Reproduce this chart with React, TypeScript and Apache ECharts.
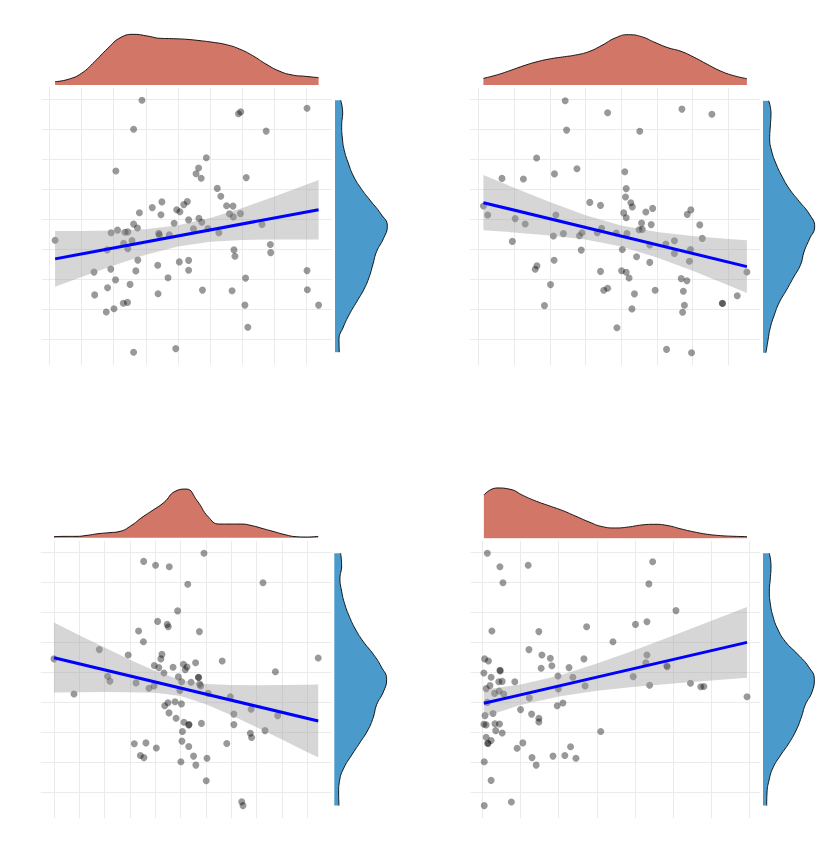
import React, { useEffect, useRef } from "react";
import * as echarts from "echarts";

// ---------- Panel 1 (top-left) ----------
const p1X = [0.18, 2.88, 2.62, 2.07, 2.80, 3.20, 3.50, 3.47, 3.96, 4.06, 4.18, 4.29, 3.88, 4.33, 2.62, 2.74, 1.92, 2.12, 2.35, 2.44, 3.40, 3.42, 3.73, 2.31, 2.57, 2.44, 1.39, 1.91, 2.75, 3.37, 2.69, 4.04, 4.33, 4.33, 2.06, 3.69, 1.41, 1.81, 2.51, 3.38, 1.77, 2.01, 2.30, 2.43, 2.62, 3.93, 1.80,
  4.48, 4.65, 4.74, 4.93, 5.27, 4.76, 4.56, 4.64, 4.72, 4.88, 5.22, 5.33, 5.51, 5.71, 5.60, 5.72, 5.94, 6.12, 5.88, 5.95, 6.74, 8.01, 6.61, 6.87, 6.88, 5.74, 5.77, 6.10, 5.68, 6.08, 6.17, 8.01, 8.02, 8.37];
const p1Y = [3.30, 7.97, 7.00, 5.61, 4.22, 4.39, 4.58, 4.15, 4.32, 4.25, 4.49, 4.59, 3.87, 3.98, 3.84, 3.71, 3.55, 3.64, 3.57, 3.58, 3.53, 3.48, 3.48, 3.20, 3.29, 3.02, 2.24, 2.34, 2.64, 2.47, 2.28, 2.58, 2.63, 2.30, 1.98, 2.05, 1.48, 1.72, 1.83, 1.52, 0.91, 1.02, 1.20, 1.23, -0.43, -0.31, 2.98,
  3.68, 4.03, 3.90, 3.69, 3.55, 1.64, 5.52, 5.71, 5.37, 6.05, 5.03, 4.77, 4.45, 4.44, 4.18, 4.08, 4.19, 5.39, 7.52, 7.58, 6.94, 7.70, 3.83, 3.16, 2.89, 2.98, 2.77, 2.04, 1.62, 1.14, 0.40, 2.29, 1.65, 1.14];
const p1RegX = [0.18, 8.37];
const p1RegY = [2.68, 4.32];
const p1BandX = [0.18, 1, 2, 3, 4, 5, 6, 7, 8, 8.37];
const p1BandHi = [3.61, 3.61, 3.63, 3.67, 3.80, 4.04, 4.38, 4.76, 5.16, 5.31];
const p1BandLo = [1.75, 2.08, 2.46, 2.82, 3.09, 3.25, 3.31, 3.33, 3.33, 3.33];
const p1DensTop = [0.010, 0.017, 0.035, 0.070, 0.110, 0.143, 0.152, 0.147, 0.140, 0.139, 0.137, 0.133, 0.128, 0.121, 0.108, 0.088, 0.063, 0.042, 0.030, 0.026, 0.022];
const p1DensRight = [0.013, 0.012, 0.025, 0.043, 0.065, 0.087, 0.103, 0.114, 0.125, 0.145, 0.157, 0.137, 0.107, 0.078, 0.055, 0.040, 0.028, 0.022, 0.020, 0.023, 0.017];
const p1XTicks = [0, 1, 2, 3, 4, 5, 6, 7, 8];
const p1YTicks = [0, 1, 2, 3, 4, 5, 6, 7, 8];

// ---------- Panel 2 (top-right) ----------
const p2X = [0.14, 0.26, 0.66, 1.26, 1.63, 2.13, 2.43, 2.47, 2.76, 3.62, 1.03, 1.31, 0.95, 2.17, 2.10, 2.38, 2.83, 2.90, 2.88, 3.12, 3.42, 3.33, 3.45, 2.12, 1.59, 1.64, 2.02, 1.85, 3.42, 3.51, 3.62,
  4.52, 5.70, 6.54, 4.10, 4.14, 4.12, 4.27, 4.31, 4.07, 4.14, 4.69, 4.88, 4.57, 4.84, 4.50, 4.59, 4.16, 3.86, 4.03, 4.43, 4.80, 4.80, 5.25, 5.49, 5.49, 5.85, 5.95, 6.20, 6.27, 5.94, 5.91, 4.01, 4.14, 4.22, 4.37, 4.30, 4.95, 5.68, 5.84, 5.74, 5.77, 5.72, 5.27, 5.97, 3.88, 6.83, 6.84, 7.25, 7.52];
const p2Y = [4.45, 4.15, 5.37, 5.35, 6.05, 5.52, 7.96, 6.98, 5.69, 7.56, 4.03, 3.85, 3.27, 4.15, 3.45, 3.53, 3.46, 3.56, 2.98, 4.57, 4.47, 3.56, 3.71, 2.64, 2.34, 2.46, 1.83, 1.13, 2.27, 1.64, 1.71,
  6.94, 7.68, 7.51, 5.59, 5.03, 4.75, 4.56, 4.42, 4.22, 4.06, 4.25, 4.37, 3.88, 3.83, 3.66, 3.67, 3.53, 3.55, 3.00, 2.76, 2.57, 3.15, 3.18, 3.29, 2.87, 4.17, 4.32, 3.82, 3.37, 3.00, 2.61, 2.29, 2.24, 2.05, 1.52, 1.02, 1.64, 2.03, 1.96, 1.61, 1.14, 0.91, -0.33, -0.44, 0.39, 1.21, 1.20, 1.46, 2.25];
const p2RegX = [0.14, 7.52];
const p2RegY = [4.56, 2.43];
const p2BandX = [0.14, 1, 2, 3, 4, 5, 6, 7, 7.52];
const p2BandHi = [5.48, 5.06, 4.58, 4.14, 3.80, 3.58, 3.45, 3.35, 3.31];
const p2BandLo = [3.64, 3.57, 3.47, 3.33, 3.10, 2.73, 2.29, 1.81, 1.55];
const p2DensTop = [0.020, 0.030, 0.043, 0.057, 0.069, 0.078, 0.084, 0.090, 0.100, 0.119, 0.141, 0.151, 0.145, 0.128, 0.112, 0.101, 0.083, 0.062, 0.042, 0.028, 0.019];
const p2DensRight = [0.009, 0.015, 0.022, 0.034, 0.049, 0.071, 0.092, 0.113, 0.123, 0.139, 0.155, 0.139, 0.109, 0.079, 0.057, 0.039, 0.026, 0.020, 0.022, 0.024, 0.017];
const p2XTicks = [0, 1, 2, 3, 4, 5, 6, 7];
const p2YTicks = [0, 1, 2, 3, 4, 5, 6, 7, 8];

// ---------- Panel 3 (bottom-left) ----------
const p3X = [0.00, 0.79, 1.79, 2.12, 2.21, 2.93, 3.24, 3.34, 3.53, 3.54, 4.01, 4.55, 5.28, 4.88, 4.09, 4.47, 4.51, 4.26, 4.22, 3.96, 4.14, 4.34, 4.70, 5.11, 5.18, 5.25, 4.91, 5.04, 4.97, 3.75, 3.95, 4.37, 4.50, 4.78, 5.03, 4.54, 4.82, 5.13, 5.32, 5.33, 5.07, 5.05, 5.32, 3.17, 3.63, 4.04, 3.41, 3.55, 5.01,
  5.92, 8.25, 5.74, 6.64, 5.59, 5.70, 5.71, 5.75, 5.41, 5.79, 6.09, 6.96, 8.74, 10.43, 7.10, 7.10, 7.78, 8.83, 8.33, 7.75, 7.80, 6.82, 5.82, 5.51, 5.60, 6.04, 6.01, 7.41, 7.46];
const p3Y = [4.46, 3.29, 4.77, 3.88, 3.72, 4.59, 3.66, 5.39, 5.03, 7.71, 7.58, 7.53, 6.95, 6.06, 5.71, 5.61, 5.53, 4.61, 4.46, 4.24, 4.17, 3.99, 4.18, 4.28, 4.10, 4.19, 3.86, 3.70, 3.41, 3.48, 3.56, 2.90, 3.00, 3.03, 2.96, 2.66, 2.48, 2.35, 2.26, 2.27, 2.04, 1.72, 1.54, 1.63, 1.66, 1.49, 1.24, 1.17, 1.03,
  7.98, 7.00, 5.37, 4.39, 4.33, 3.84, 3.85, 3.62, 3.68, 3.56, 3.31, 3.20, 4.03, 4.49, 2.62, 2.27, 2.78, 2.57, 2.07, 1.98, 1.84, 1.64, 2.31, 1.22, 0.92, 1.15, 0.40, -0.30, -0.43];
const p3RegX = [0, 10.43];
const p3RegY = [4.50, 2.39];
const p3BandX = [0, 1, 2, 3, 4, 5, 6, 7, 8, 9, 10, 10.43];
const p3BandHi = [5.67, 5.25, 4.84, 4.43, 4.06, 3.76, 3.62, 3.59, 3.58, 3.59, 3.60, 3.61];
const p3BandLo = [3.34, 3.35, 3.36, 3.35, 3.33, 3.22, 2.95, 2.58, 2.18, 1.77, 1.35, 1.18];
const p3DensTop = [0.003, 0.004, 0.004, 0.007, 0.012, 0.015, 0.019, 0.036, 0.061, 0.083, 0.106, 0.139, 0.146, 0.111, 0.063, 0.041, 0.041, 0.041, 0.036, 0.027, 0.018, 0.009, 0.003, 0.002, 0.004];
const p3DensRight = [0.014, 0.013, 0.016, 0.029, 0.052, 0.077, 0.101, 0.117, 0.127, 0.147, 0.157, 0.141, 0.117, 0.087, 0.063, 0.045, 0.031, 0.022, 0.017, 0.022, 0.019];
const p3XTicks = [0, 1, 2, 3, 4, 5, 6, 7, 8, 9, 10];
const p3YTicks = [0, 1, 2, 3, 4, 5, 6, 7, 8];

// ---------- Panel 4 (bottom-right) ----------
const p4X = [0.13, 0.46, 1.20, 0.54, 0.25, 1.48, 2.73, 3.42, 1.22, 1.56, 1.78, 1.82, 1.54, 2.27, 2.66, 1.98, 2.37, 2.69, 1.99, 1.23, 0.85, 0.06, 0.16, 0.04, 0.46, 0.47, 0.23, 0.10, 0.20, 0.43, 0.52, 0.32, 0.44, 0.56, 0.13, 0.07, 0.28, 0.04, 0.10, 0.33, 0.45, 0.52, 0.35, 0.10, 0.14, 0.15, 0.23, 1.00, 1.29, 1.48, 1.48, 1.96, 2.11, 0.91, 1.06, 1.30, 1.41, 1.85, 2.16, 2.31, 2.45, 3.10, 0.05, 0.23, 0.05, 0.76,
  4.46, 4.36, 5.07, 4.01, 4.31, 4.31, 4.28, 3.95, 4.83, 4.84, 4.38, 5.45, 5.72, 5.80, 6.93];
const p4Y = [7.98, 7.53, 7.58, 7.00, 5.39, 5.37, 5.53, 5.03, 4.77, 4.59, 4.48, 4.23, 4.15, 4.17, 4.46, 3.89, 3.85, 3.56, 3.46, 3.16, 3.70, 4.46, 4.39, 3.99, 4.08, 4.06, 3.85, 3.47, 3.57, 3.70, 3.71, 3.31, 3.39, 3.29, 3.01, 2.57, 2.64, 2.28, 2.26, 2.30, 2.29, 1.99, 2.07, 1.85, 1.65, 1.64, 1.74, 2.77, 2.62, 2.48, 2.36, 2.90, 2.99, 1.48, 1.66, 1.17, 0.92, 1.22, 1.24, 1.53, 1.15, 2.04, 1.03, 0.41, -0.43, -0.31,
  7.70, 6.96, 6.07, 5.61, 5.70, 4.59, 4.33, 3.87, 4.23, 4.20, 3.58, 3.65, 3.53, 3.54, 3.20];
const p4RegX = [0.04, 6.93];
const p4RegY = [2.98, 5.01];
const p4BandX = [0.04, 1, 2, 3, 4, 5, 6, 6.93];
const p4BandHi = [3.43, 3.61, 3.90, 4.31, 4.76, 5.24, 5.73, 6.19];
const p4BandLo = [2.53, 2.92, 3.21, 3.40, 3.53, 3.64, 3.74, 3.83];
const p4DensTop = [0.130, 0.151, 0.147, 0.128, 0.111, 0.097, 0.083, 0.066, 0.049, 0.035, 0.031, 0.034, 0.040, 0.042, 0.038, 0.028, 0.019, 0.012, 0.008, 0.006, 0.005];
const p4DensRight = [0.011, 0.012, 0.018, 0.030, 0.053, 0.079, 0.100, 0.115, 0.127, 0.147, 0.154, 0.137, 0.104, 0.067, 0.044, 0.030, 0.022, 0.019, 0.022, 0.024, 0.019];
const p4XTicks = [0, 1, 2, 3, 4, 5, 6, 7];
const p4YTicks = [0, 1, 2, 3, 4, 5, 6, 7, 8];

// ---------- Styles ----------
const GRID_COLOR = "#EBEBEB";
const POINT_COLOR = "rgba(0,0,0,0.5)";
const BAND_COLOR = "rgba(153,153,153,0.4)";
const LINE_COLOR = "#0000FF";
const RED_FILL = "#D27667";
const BLUE_FILL = "#4A9BCC";

// ---------- Layout (pixel positions of each panel) ----------
const panels = [
  { x: p1X, y: p1Y, regX: p1RegX, regY: p1RegY, bandX: p1BandX, bandHi: p1BandHi, bandLo: p1BandLo, densTop: p1DensTop, densRight: p1DensRight, xTicks: p1XTicks, yTicks: p1YTicks,
    left: 41.9, top: 87.6, width: 289.9, height: 277.2, xMin: -0.23, xMax: 8.78, yMin: -0.85, yMax: 8.39, densBase: 85, rightLeft: 335 },
  { x: p2X, y: p2Y, regX: p2RegX, regY: p2RegY, bandX: p2BandX, bandHi: p2BandHi, bandLo: p2BandLo, densTop: p2DensTop, densRight: p2DensRight, xTicks: p2XTicks, yTicks: p2YTicks,
    left: 470.2, top: 88.1, width: 289.9, height: 277.2, xMin: -0.23, xMax: 7.89, yMin: -0.86, yMax: 8.38, densBase: 85, rightLeft: 763 },
  { x: p3X, y: p3Y, regX: p3RegX, regY: p3RegY, bandX: p3BandX, bandHi: p3BandHi, bandLo: p3BandLo, densTop: p3DensTop, densRight: p3DensRight, xTicks: p3XTicks, yTicks: p3YTicks,
    left: 40.8, top: 540.7, width: 290.6, height: 277.5, xMin: -0.52, xMax: 10.95, yMin: -0.85, yMax: 8.40, densBase: 537.7, rightLeft: 334.3 },
  { x: p4X, y: p4Y, regX: p4RegX, regY: p4RegY, bandX: p4BandX, bandHi: p4BandHi, bandLo: p4BandLo, densTop: p4DensTop, densRight: p4DensRight, xTicks: p4XTicks, yTicks: p4YTicks,
    left: 470.5, top: 540.7, width: 289.5, height: 277.5, xMin: -0.31, xMax: 7.27, yMin: -0.85, yMax: 8.40, densBase: 538.3, rightLeft: 763 },
];

const TOP_DENS_HEIGHT = 56;
const TOP_DENS_MAX = 0.168;
const RIGHT_DENS_WIDTH = 60;
const RIGHT_DENS_MAX = 0.18;

function buildOption() {
  const grid: any[] = [];
  const xAxis: any[] = [];
  const yAxis: any[] = [];
  const series: any[] = [];
  const hidden = { show: false };

  panels.forEach((p) => {
    const base = grid.length;
    const pxX = (v: number) => p.left + ((v - p.xMin) / (p.xMax - p.xMin)) * p.width;
    const pxY = (v: number) => p.top + ((p.yMax - v) / (p.yMax - p.yMin)) * p.height;
    const xt0 = p.xTicks[0];
    const xt1 = p.xTicks[p.xTicks.length - 1];
    const yt0 = p.yTicks[0];
    const yt1 = p.yTicks[p.yTicks.length - 1];

    // vertical grid lines
    grid.push({ left: pxX(xt0), top: p.top, width: pxX(xt1) - pxX(xt0), height: p.height });
    xAxis.push({
      gridIndex: base, type: "value", min: xt0, max: xt1, interval: 1,
      axisLine: hidden, axisTick: hidden, axisLabel: hidden,
      splitLine: { show: true, lineStyle: { color: GRID_COLOR, width: 1 } },
    });
    yAxis.push({ gridIndex: base, type: "value", min: 0, max: 1, show: false });

    // horizontal grid lines
    grid.push({ left: p.left, top: pxY(yt1), width: p.width, height: pxY(yt0) - pxY(yt1) });
    xAxis.push({ gridIndex: base + 1, type: "value", min: 0, max: 1, show: false });
    yAxis.push({
      gridIndex: base + 1, type: "value", min: yt0, max: yt1, interval: 1,
      axisLine: hidden, axisTick: hidden, axisLabel: hidden,
      splitLine: { show: true, lineStyle: { color: GRID_COLOR, width: 1 } },
    });

    // scatter panel
    grid.push({ left: p.left, top: p.top, width: p.width, height: p.height });
    xAxis.push({ gridIndex: base + 2, type: "value", min: p.xMin, max: p.xMax, show: false });
    yAxis.push({ gridIndex: base + 2, type: "value", min: p.yMin, max: p.yMax, show: false });

    // top density panel
    const xLo = Math.min(...p.x);
    const xHi = Math.max(...p.x);
    grid.push({ left: pxX(xLo), top: p.densBase - TOP_DENS_HEIGHT, width: pxX(xHi) - pxX(xLo), height: TOP_DENS_HEIGHT });
    xAxis.push({ gridIndex: base + 3, type: "category", boundaryGap: false, data: p.densTop.map((_, i) => String(i)), show: false });
    yAxis.push({ gridIndex: base + 3, type: "value", min: 0, max: TOP_DENS_MAX, show: false });

    // right density panel
    const yLo = Math.min(...p.y);
    const yHi = Math.max(...p.y);
    grid.push({ left: p.rightLeft, top: pxY(yHi), width: RIGHT_DENS_WIDTH, height: pxY(yLo) - pxY(yHi) });
    xAxis.push({ gridIndex: base + 4, type: "value", min: 0, max: RIGHT_DENS_MAX, show: false });
    yAxis.push({ gridIndex: base + 4, type: "category", boundaryGap: false, data: p.densRight.map((_, i) => String(i)), show: false });

    series.push({
      type: "scatter", xAxisIndex: base + 2, yAxisIndex: base + 2,
      data: p.x.map((v, i) => [v, p.y[i]]),
      symbol: "circle", symbolSize: 7,
      itemStyle: { color: POINT_COLOR, borderWidth: 0 },
      silent: true, z: 3,
    });
    series.push({
      type: "custom", xAxisIndex: base + 2, yAxisIndex: base + 2,
      data: [[p.bandX[0], p.bandLo[0]]],
      silent: true, z: 4,
      renderItem: (_params: any, api: any) => {
        const pts: number[][] = [];
        for (let i = 0; i < p.bandX.length; i++) pts.push(api.coord([p.bandX[i], p.bandHi[i]]));
        for (let i = p.bandX.length - 1; i >= 0; i--) pts.push(api.coord([p.bandX[i], p.bandLo[i]]));
        return { type: "polygon", shape: { points: pts }, style: { fill: BAND_COLOR } };
      },
    });
    series.push({
      type: "line", xAxisIndex: base + 2, yAxisIndex: base + 2,
      data: p.regX.map((v, i) => [v, p.regY[i]]),
      symbol: "none", showSymbol: false,
      lineStyle: { color: LINE_COLOR, width: 3 },
      silent: true, z: 5,
    });
    series.push({
      type: "line", xAxisIndex: base + 3, yAxisIndex: base + 3,
      data: p.densTop, smooth: true, symbol: "none", showSymbol: false,
      lineStyle: { color: "#000000", width: 0.9 },
      areaStyle: { color: RED_FILL, opacity: 1 },
      silent: true,
    });
    series.push({
      type: "line", xAxisIndex: base + 4, yAxisIndex: base + 4,
      data: p.densRight, smooth: true, symbol: "none", showSymbol: false,
      lineStyle: { color: "#000000", width: 0.9 },
      areaStyle: { color: BLUE_FILL, opacity: 1 },
      silent: true,
    });
  });

  return { animation: false, backgroundColor: "#FFFFFF", grid, xAxis, yAxis, series };
}

export default function App() {
  const ref = useRef<HTMLDivElement>(null);
  useEffect(() => {
    if (!ref.current) return;
    const chart = echarts.init(ref.current, null, { renderer: "svg" });
    chart.setOption(buildOption());
    return () => chart.dispose();
  }, []);
  return (
    <div
      ref={ref}
      style={{ position: "fixed", left: 0, top: 0, width: 825, height: 850, background: "#FFFFFF" }}
    />
  );
}
